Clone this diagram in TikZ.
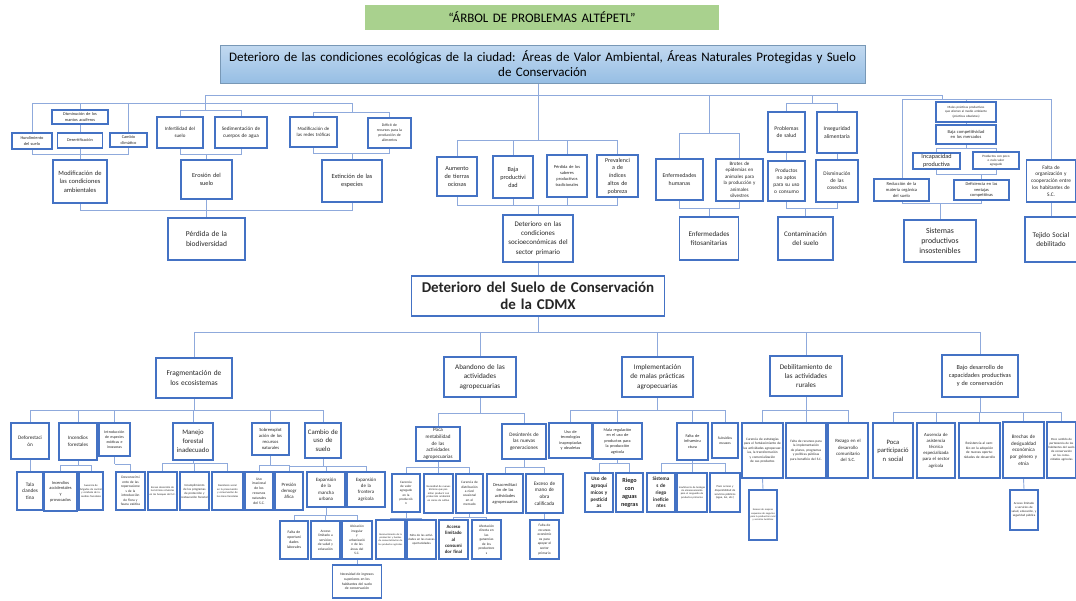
\documentclass[tikz,border=0pt]{standalone}
\usepackage{fontspec}
\setmainfont{Carlito}
\usetikzlibrary{positioning,backgrounds}
\definecolor{boxblue}{RGB}{68,114,196}
\definecolor{lineblue}{RGB}{143,170,220}
\definecolor{titlegreen}{RGB}{169,209,142}
\definecolor{hdrtop}{RGB}{194,217,240}
\definecolor{hdrbot}{RGB}{150,190,228}
\tikzstyle{box} = [rectangle, draw=boxblue, line width=1.1pt, fill=white, align=center, inner sep=0.5pt, text=black!85]
\tikzstyle{ln}  = [draw=lineblue, line width=0.9pt]
\tikzset{sz/.style 2 args={minimum width=#1pt, minimum height=#2pt, text width=#1pt-2pt},
         fs/.style={font=\fontsize{#1}{\fpeval{1.3*#1}}\selectfont},
         fsb/.style={font=\fontsize{#1}{\fpeval{1.3*#1}}\selectfont\bfseries}}

\begin{document}
\begin{tikzpicture}[x=1pt, y=-1pt]
\useasboundingbox (0,0) rectangle (1076,600);

% encabezado
\node[fill=titlegreen, sz={350}{25}, align=center, font=\fontsize{13}{15}\selectfont] (title) at (542,17.5) {“ÁRBOL DE PROBLEMAS ALTÉPETL”};
\node[draw=hdrbot!80!black, top color=hdrtop, bottom color=hdrbot, sz={645}{38}, align=center, font=\fontsize{13}{15}\selectfont, inner sep=1pt] (header) at (542.5,64)
  {Deterioro de las condiciones ecológicas de la ciudad: Áreas de Valor Ambiental, Áreas Naturales Protegidas y Suelo\\de Conservación};

% efectos
\node[box, sz={56}{14}, fs=4.3] (manto) at (80,117) {Disminución de los\\mantos acuíferos};
\node[box, sz={40}{16}, fs=4.3] (hund) at (32,141) {Hundimiento\\del suelo};
\node[box, sz={45}{15}, fs=4.3] (deser) at (80,140.5) {Desertificación};
\node[box, sz={37}{14}, fs=4.3] (clima) at (128.5,140) {Cambio\\climático};
\node[box, sz={54}{43}, fs=6.5] (modamb) at (80,181.5) {Modificación de\\las condiciones\\ambientales};
\node[box, sz={46}{31}, fs=5] (infert) at (180,132.5) {Infertilidad del\\suelo};
\node[box, sz={52}{31}, fs=5.2] (sedim) at (241,132.5) {Sedimentación de\\cuerpos de agua};
\node[box, sz={51}{39}, fs=6.2] (eros) at (206.5,179.5) {Erosión del\\suelo};
\node[box, sz={47}{30}, fs=4.8] (redes) at (313.5,132) {Modificación de\\las redes tróficas};
\node[box, sz={43}{30}, fs=3.8] (deficit) at (389.5,133) {Déficit de\\recursos para la\\producción de\\alimentos};
\node[box, sz={60}{42}, fs=6.3] (extin) at (352,181) {Extinción de las\\especies};
\node[box, sz={77}{42}, fs=7.5] (biodiv) at (206.5,239) {Pérdida de la\\biodiversidad};

\node[box, sz={40}{39}, fs=6.2] (aumento) at (457,176.5) {Aumento\\de tierras\\ociosas};
\node[box, sz={40}{42}, fs=6.2] (bajaprod) at (513,177) {Baja\\productivi\\dad};
\node[box, sz={40}{42}, fs=4.4] (saberes) at (567,176) {Pérdida de los\\saberes\\productivos\\tradicionales};
\node[box, sz={41}{42}, fs=6] (pobreza) at (617.5,176) {Prevalenci\\a de\\índices\\altos de\\pobreza};
\node[box, sz={70}{47}, fs=7] (socio) at (538,238.5) {Deterioro en las\\condiciones\\socioeconómicas del\\sector primario};

\node[box, sz={47}{41}, fs=5.8] (enfhum) at (679.5,179.5) {Enfermedades\\humanas};
\node[box, sz={47}{42}, fs=5] (brotes) at (739.5,180) {Brotes de\\epidemias en\\animales para\\la producción y\\animales\\silvestres};
\node[box, sz={59}{43}, fs=7] (fito) at (709,238.5) {Enfermedades\\fitosanitarias};
\node[box, sz={37}{40}, fs=5.6] (salud) at (786.5,132) {Problemas\\de salud};
\node[box, sz={40}{41}, fs=5.6] (insegur) at (837,132.5) {Inseguridad\\alimentaria};
\node[box, sz={37}{40}, fs=5.4] (noaptos) at (786.5,181) {Productos\\no aptos\\para su uso\\o consumo};
\node[box, sz={42}{42}, fs=5.4] (cosechas) at (837,181) {Disminución\\de las\\cosechas};
\node[box, sz={55}{43}, fs=7] (contam) at (805.5,238.5) {Contaminación\\del suelo};

\node[box, sz={60}{20}, fs=3.2] (malasprac) at (966,112) {Malas prácticas productivas\\que afectan al medio ambiente\\(prácticas obsoletas)};
\node[box, sz={60}{19}, fs=4.5] (bajacomp) at (966,134.5) {Baja competitividad\\en los mercados};
\node[box, sz={47}{16}, fs=6.2] (incap) at (936.5,161) {Incapacidad\\productiva};
\node[box, sz={46}{17}, fs=3.3] (nulo) at (996,160.5) {Productos con poco\\o nulo valor\\agregado};
\node[box, sz={55}{22}, fs=4.5] (reduc) at (901.5,190) {Reducción de la\\materia orgánica\\del suelo};
\node[box, sz={55}{20}, fs=4.4] (deficien) at (981.5,190) {Deficiencia en las\\ventajas\\competitivas};
\node[box, sz={49}{42}, fs=5.3] (falta) at (1051,181) {Falta de\\organización y\\cooperación entre\\los habitantes de\\S.C.};
\node[box, sz={72}{42}, fs=7.8] (sistemas) at (940,241) {Sistemas\\productivos\\insostenibles};
\node[box, sz={52}{45}, fs=7.2] (tejido) at (1051,239.5) {Tejido Social\\debilitado};

% problema central
\node[box, sz={253}{40}, font=\fontsize{15}{17.5}\selectfont\bfseries] (suelo) at (538,296) {Deterioro del Suelo de Conservación\\de la CDMX};

% causas
\node[box, sz={76}{40}, fs=7.4] (frag) at (194,378) {Fragmentación de\\los ecosistemas};
\node[box, sz={72}{40}, fs=7.1] (aband) at (480,377) {Abandono de las\\actividades\\agropecuarias};
\node[box, sz={71}{40}, fs=7.1] (implem) at (657.5,377) {Implementación\\de malas prácticas\\agropecuarias};
\node[box, sz={72}{40}, fs=7.1] (debil) at (806,376) {Debilitamiento de\\las actividades\\rurales};
\node[box, sz={76}{42}, fs=6.2] (bajodes) at (980,376) {Bajo desarrollo de\\capacidades productivas\\y de conservación};

\node[box, sz={38}{36}, fs=5.2] (defor) at (30,441) {Deforestaci\\ón};
\node[box, sz={38}{37}, fs=5.1] (incend) at (78,441.5) {Incendios\\forestales};
\node[box, sz={31}{33}, fs=3.9] (introd) at (114.5,439.5) {Introducción\\de especies\\exóticas e\\invasoras};
\node[box, sz={40}{37}, fs=6.8] (manejo) at (193,441.5) {Manejo\\forestal\\inadecuado};
\node[box, sz={37}{32}, fs=4.6] (sobre) at (270.5,439) {Sobreexplot\\ación de los\\recursos\\naturales};
\node[box, sz={36}{35}, fs=6.8] (cambio) at (323,440.5) {Cambio de\\uso de\\suelo};

\node[box, sz={26}{38}, fs=5.2] (tala) at (30,491) {Tala\\clandes\\tina};
\node[box, sz={33}{39}, fs=4.4] (incacc) at (60.5,491.5) {Incendios\\accidentales\\y\\provocados};
\node[box, sz={24}{38}, fs=2.7] (incaus) at (91,491) {Ausencia de brigadas de control y combate de incendios forestales};
\node[box, sz={29}{38}, fs=3.5] (desc) at (130.5,491) {Desconocimi\\ento de las\\repercusione\\s de la\\introducción\\de flora y\\fauna exótica};
\node[box, sz={29}{38}, fs=2.7] (escaso) at (162.5,491) {Escaso desarrollo de las técnicas silvícolas en los bosques del S.C.};
\node[box, sz={29}{38}, fs=3.1] (incump) at (194.5,491) {Incumplimiento de los programas de protección y restauración forestal};
\node[box, sz={31}{38}, fs=2.7] (desint) at (227.5,491) {Desinterés social en la preservación y conservación de las áreas forestales};
\node[box, sz={28}{38}, fs=3.7] (usoirr) at (259,491) {Uso\\irracional\\de los\\recursos\\naturales\\del S.C.};
\node[box, sz={28}{38}, fs=4.8] (presion) at (289,491) {Presión\\demogr\\áfica};
\node[box, sz={38}{35}, fs=4.9] (mancha) at (326,489.5) {Expansión\\de la\\mancha\\urbana};
\node[box, sz={38}{35}, fs=4.9] (fronag) at (366,489.5) {Expansión\\de la\\frontera\\agrícola};
\node[box, sz={28}{38}, fs=3.8] (oportu) at (294,540) {Falta de\\oportuni\\dades\\laborales};
\node[box, sz={29}{38}, fs=3.5] (acceso) at (325.5,540) {Acceso\\limitado a\\servicios\\de salud y\\educación};
\node[box, sz={30}{38}, fs=3.4] (ubic) at (357,540) {Ubicación\\irregular\\y\\urbanizació\\n de las\\áreas del\\S.C.};
\node[box, sz={49}{33}, fs=3.6] (necesidad) at (357,581.5) {Necesidad de ingresos\\superiores en los\\habitantes del suelo\\de conservación};

\node[box, sz={44}{34}, fs=5.1] (pocarent) at (438,444) {Poca\\rentabilidad\\de las\\actividades\\agropecuarias};
\node[box, sz={44}{35}, fs=5.2] (desinter) at (524,441.5) {Desinterés de\\las nuevas\\generaciones};
\node[box, sz={28}{38}, fs=3.3] (carvalor) at (406,493) {Carencia\\de valor\\agregado\\en la\\producció\\n};
\node[box, sz={29}{39}, fs=2.7] (tecnicas) at (438.5,493.5) {Necesidad de nuevas técnicas que permitan producir con protección ambiental en zonas de cultivo};
\node[box, sz={27}{39}, fs=3.4] (distrib) at (469.5,493.5) {Carencia de\\distribución\\a nivel\\ocasional\\en el\\mercado};
\node[box, sz={29}{39}, fs=2.5] (reconoc) at (390.5,539.5) {Reconocimiento de la producción y fuentes de comercialización de los productos agrícolas};
\node[box, sz={29}{39}, fs=3.1] (faltaact) at (421.5,539.5) {Falta de las actividades en las nuevas oportunidades};
\node[box, sz={29}{39}, fsb=4.8] (accfinal) at (453.5,539.5) {Acceso\\limitado\\al\\consumi\\dor final};
\node[box, sz={29}{39}, fs=3.5] (afect) at (486.5,539.5) {Afectación\\directa en\\las\\ganancias\\de los\\productore\\s};
\node[box, sz={36}{39}, fs=4.4] (desacr) at (505,493.5) {Desacreditaci\\ón de las\\actividades\\agropecuarias};
\node[box, sz={37}{39}, fs=5.2] (exceso) at (544.5,493.5) {Exceso de\\mano de\\obra\\calificada};
\node[box, sz={29}{39}, fs=3.5] (recursos) at (544.5,539.5) {Falta de\\recursos\\económic\\os para\\apoyar el\\sector\\primario};

\node[box, sz={43}{35}, fs=4.2] (tecnol) at (570.5,440.5) {Uso de\\tecnologías\\inapropiadas\\y obsoletas};
\node[box, sz={49}{36}, fs=4.2] (regul) at (617.5,441) {Mala regulación\\en el uso de\\productos para\\la producción\\agrícola};
\node[box, sz={31}{37}, fs=4.2] (infra) at (692.5,441.5) {Falta de\\infraestru\\ctura};
\node[box, sz={26}{35}, fs=3.7] (subsid) at (725,440.5) {Subsidios\\escasos};
\node[box, sz={28}{39}, fsb=5.2] (agroq) at (599,492.5) {Uso de\\agroquí\\micos y\\pesticid\\as};
\node[box, sz={27}{39}, fsb=6.2] (riego) at (629.5,492.5) {Riego\\con\\aguas\\negras};
\node[box, sz={28}{39}, fsb=5.2] (sisriego) at (661,492.5) {Sistema\\s de\\riego\\ineficie\\ntes};
\node[box, sz={30}{39}, fs=2.6] (bodegas) at (692,492.5) {Insuficiencia de bodegas de almacenamiento para el resguardo de productos primarios};
\node[box, sz={30}{39}, fs=2.9] (servic) at (725,492.5) {Poco acceso y disponibilidad de servicios públicos (agua, luz, etc.)};

\node[box, sz={41}{55}, fs=3.4] (estrat) at (762.5,450.5) {Carencia de estrategias para el fortalecimiento de las actividades agropecuarias, la transformación y comercialización de sus productos};
\node[box, sz={40}{55}, fs=3.4] (planes) at (806,450.5) {Falta de recursos para la implementación de planes, programas y políticas públicas para beneficio del S.C.};
\node[box, sz={40}{55}, fs=4.8] (rezago) at (848,450.5) {Rezago en el\\desarrollo\\comunitario\\del S.C.};
\node[box, sz={28}{50}, fs=2.5] (esquemas) at (763,515) {Escasez de mejores esquemas de negocios para la producción rural y servicios turísticos};

\node[box, sz={40}{55}, fs=6.6] (particip) at (893,450.5) {Poca\\participació\\n social};
\node[box, sz={38}{55}, fs=4.7] (asist) at (936,450.5) {Ausencia de\\asistencia\\técnica\\especializada\\para el sector\\agrícola};
\node[box, sz={41}{55}, fs=3.5] (resist) at (979.5,450.5) {Resistencia al cambio en la adopción de nuevas oportunidades de desarrollo};
\node[box, sz={41}{56}, fs=5.1] (brechas) at (1023.5,450) {Brechas de\\desigualdad\\económica\\por género y\\etnia};
\node[box, sz={29}{56}, fs=3.1] (sentido) at (1061.5,450) {Poco sentido de pertenencia de los habitantes del suelo de conservación en las comunidades agrícolas};
\node[box, sz={28}{40}, fs=3.1] (accsal) at (1024,510) {Acceso limitado a servicios de salud, educación, y seguridad pública};

\begin{scope}[on background layer]
% parte superior
\coordinate (topbus) at (538,95);
\draw[ln] (topbus |- header.south) -- (topbus);
\coordinate (erosbus) at (205,110);
\draw[ln] (topbus) -| (erosbus);
\draw[ln] (infert.north) |- (erosbus);
\draw[ln] (sedim.north) |- (erosbus);
\coordinate (erosjoin) at (206.5,154);
\draw[ln] (infert.south) |- (erosjoin);
\draw[ln] (sedim.south) |- (erosjoin);
\draw[ln] (eros.north) -- (erosjoin);

\coordinate (ambbus) at (80,103);
\coordinate (extbus) at (352,112);
\draw[ln] (hund.north) |- (ambbus);
\draw[ln] (clima.north) |- (ambbus);
\draw[ln] (manto.north) -- (ambbus);
\draw[ln] (ambbus) -| (extbus);
\draw[ln] (redes.north) |- (extbus);
\draw[ln] (deficit.north) |- (extbus);
\draw[ln] (manto.south) -- (deser.north);
\draw[ln] (deser.south) -- (modamb.north);
\coordinate (ambjoin) at (80,154);
\draw[ln] (hund.south) |- (ambjoin);
\draw[ln] (clima.south) |- (ambjoin);
\coordinate (extjoin) at (352,153);
\draw[ln] (redes.south) |- (extjoin);
\draw[ln] (deficit.south) |- (extjoin);
\draw[ln] (extin.north) -- (extjoin);
\coordinate (biojoin) at (206.5,210);
\draw[ln] (modamb.south) |- (biojoin);
\draw[ln] (extin.south) |- (biojoin);
\draw[ln] (eros.south) -- (biodiv.north);

\coordinate (sociobus) at (538,140);
\draw[ln] (topbus) -- (sociobus);
\foreach \n in {aumento,bajaprod,saberes,pobreza} \draw[ln] (\n.north) |- (sociobus);
\coordinate (sociojoin) at (538,205);
\foreach \n in {aumento,bajaprod,saberes,pobreza} \draw[ln] (\n.south) |- (sociojoin);
\draw[ln] (socio.north) -- (sociojoin);
\draw[ln] (socio.south) -- (suelo.north);

\coordinate (enfbus) at (709,133);
\draw[ln] (enfbus |- topbus) -- (enfbus);
\draw[ln] (enfhum.north) |- (enfbus);
\draw[ln] (brotes.north) |- (enfbus);
\coordinate (enfjoin) at (709,208);
\draw[ln] (enfhum.south) |- (enfjoin);
\draw[ln] (brotes.south) |- (enfjoin);
\draw[ln] (fito.north) -- (enfjoin);

\coordinate (saludbus) at (812,103);
\draw[ln] (saludbus |- topbus) -- (saludbus);
\draw[ln] (salud.north) |- (saludbus);
\draw[ln] (insegur.north) |- (saludbus);
\draw[ln] (salud.south) -- (noaptos.north);
\draw[ln] (insegur.south) -- (cosechas.north);
\coordinate (contjoin) at (805.5,208);
\draw[ln] (noaptos.south) |- (contjoin);
\draw[ln] (cosechas.south) |- (contjoin);
\draw[ln] (contam.north) -- (contjoin);

\coordinate (sistop) at (942,99);
\coordinate (sisjoin) at (902,203);
\draw[ln] (topbus) -| (sistop);
\draw[ln] (sistop) -| (falta.north);
\draw[ln] (sistop) -| (sisjoin);
\draw[ln] (sisjoin) -| (sistemas.north);
\draw[ln] (malasprac.north) -- (malasprac.north |- sistop);
\draw[ln] (malasprac.south) -- (bajacomp.north);
\coordinate (compbus) at (966,148);
\draw[ln] (bajacomp.south) -- (compbus);
\draw[ln] (incap.north) |- (compbus);
\draw[ln] (nulo.north) |- (compbus);
\coordinate (incjoin) at (981.5,174);
\draw[ln] (incap.south) |- (incjoin);
\draw[ln] (nulo.south) |- (incjoin);
\draw[ln] (deficien.north) -- (incjoin);
\draw[ln] (deficien.south) |- (sisjoin);
\draw[ln] (falta.south) -- (tejido.north);

% parte inferior
\coordinate (midbus) at (538,332);
\draw[ln] (suelo.south) -- (midbus);
\foreach \n in {frag,aband,implem,debil,bajodes} \draw[ln] (\n.north) |- (midbus);

\coordinate (fragbus) at (194,410);
\draw[ln] (frag.south) -- (fragbus);
\foreach \n in {defor,incend,introd,manejo,sobre,cambio} \draw[ln] (\n.north) |- (fragbus);
\draw[ln] (defor.south) -- (tala.north);
\coordinate (incbus) at (78,465);
\draw[ln] (incend.south) -- (incbus);
\draw[ln] (incacc.north) |- (incbus);
\draw[ln] (incaus.north) |- (incbus);
\coordinate (intbus) at (114.5,464);
\draw[ln] (introd.south) -- (intbus);
\draw[ln] (desc.north) |- (intbus);
\coordinate (manbus) at (193,463);
\draw[ln] (manejo.south) -- (manbus);
\foreach \n in {escaso,incump,desint} \draw[ln] (\n.north) |- (manbus);
\coordinate (sobbus) at (270.5,465);
\draw[ln] (sobre.south) -- (sobbus);
\draw[ln] (usoirr.north) |- (sobbus);
\draw[ln] (presion.north) |- (sobbus);
\coordinate (cambus) at (323,466);
\draw[ln] (cambio.south) -- (cambus);
\foreach \n in {presion,mancha,fronag} \draw[ln] (\n.north) |- (cambus);
\coordinate (manchbus) at (326,515);
\draw[ln] (mancha.south) -- (manchbus);
\foreach \n in {oportu,acceso,ubic} \draw[ln] (\n.north) |- (manchbus);
\draw[ln] (ubic.south) -- (necesidad.north);

\coordinate (abbus) at (480,413);
\draw[ln] (aband.south) -- (abbus);
\draw[ln] (pocarent.north) |- (abbus);
\draw[ln] (desinter.north) |- (abbus);
\coordinate (rentbus) at (438,467);
\draw[ln] (pocarent.south) -- (rentbus);
\foreach \n in {carvalor,tecnicas,distrib} \draw[ln] (\n.north) |- (rentbus);
\coordinate (valbus) at (406,518);
\draw[ln] (carvalor.south) -- (valbus);
\draw[ln] (reconoc.north) |- (valbus);
\draw[ln] (faltaact.north) |- (valbus);
\coordinate (disbus) at (469.5,517);
\draw[ln] (distrib.south) -- (disbus);
\draw[ln] (accfinal.north) |- (disbus);
\draw[ln] (afect.north) |- (disbus);
\coordinate (desbus) at (524,467);
\draw[ln] (desinter.south) -- (desbus);
\draw[ln] (desacr.north) |- (desbus);
\draw[ln] (exceso.north) |- (desbus);
\draw[ln] (exceso.south) -- (recursos.north);

\coordinate (impbus) at (657.5,410);
\draw[ln] (implem.south) -- (impbus);
\foreach \n in {tecnol,regul,infra,subsid} \draw[ln] (\n.north) |- (impbus);
\coordinate (regbus) at (617.5,463);
\draw[ln] (regul.south) -- (regbus);
\draw[ln] (agroq.north) |- (regbus);
\draw[ln] (riego.north) |- (regbus);
\coordinate (infbus) at (692.5,463);
\draw[ln] (infra.south) -- (infbus);
\foreach \n in {sisriego,bodegas,servic} \draw[ln] (\n.north) |- (infbus);

\coordinate (debbus) at (806,410);
\draw[ln] (debil.south) -- (debbus);
\foreach \n in {estrat,planes,rezago} \draw[ln] (\n.north) |- (debbus);
\draw[ln] (estrat.south) -- (esquemas.north);

\coordinate (bajbus) at (980,412);
\draw[ln] (bajodes.south) -- (bajbus);
\foreach \n in {particip,asist,resist,brechas,sentido} \draw[ln] (\n.north) |- (bajbus);
\draw[ln] (brechas.south) -- (accsal.north);
\end{scope}
\end{tikzpicture}
\end{document}
